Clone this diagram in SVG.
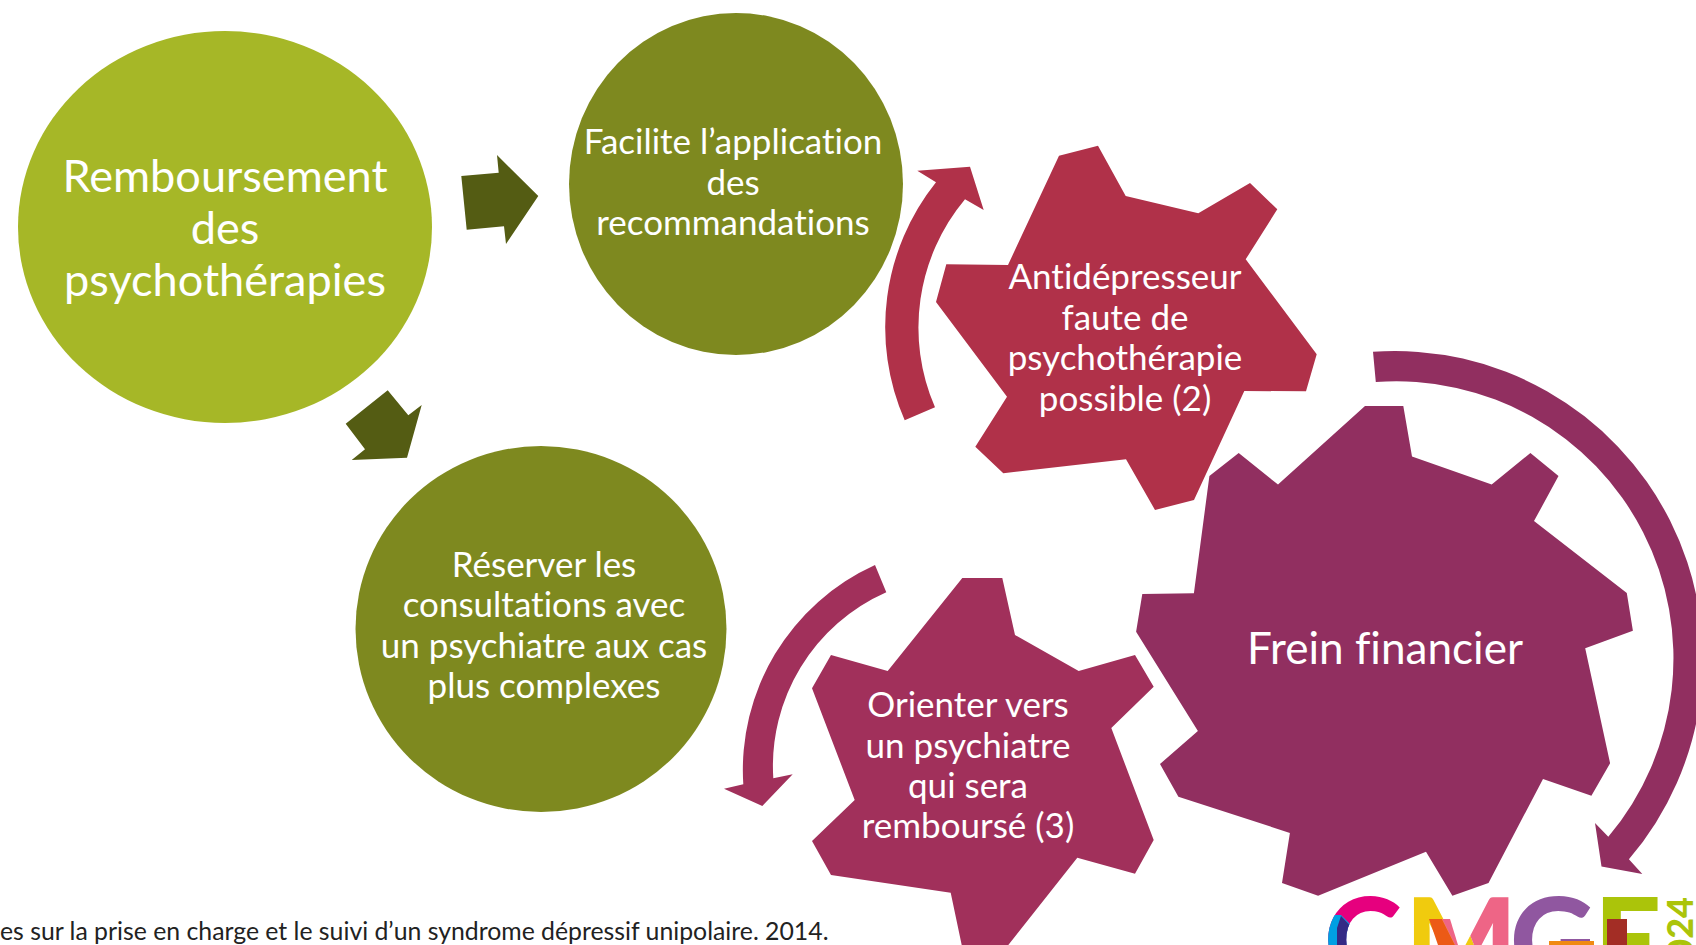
<svg xmlns="http://www.w3.org/2000/svg" width="1696" height="945" viewBox="0 0 1696 945">
<defs>
<style>
.t{font-family:"Lato","Open Sans",sans-serif;font-weight:400;fill:#fff;text-anchor:middle;font-variant-ligatures:none}
.s1{font-size:45.1px}
.s2{font-size:35px}
.s3{font-size:44.1px}
.f{font-family:"Lato","Open Sans",sans-serif;font-weight:400;font-size:24.8px;fill:#222;font-variant-ligatures:none}
.a{fill:#545C13}
.lg{font-family:"Lato","Liberation Sans",sans-serif;font-weight:900;font-size:118px}
</style>
<clipPath id="mL"><polygon points="1405,890 1452,890 1474,945 1405,945"/></clipPath>
<clipPath id="mR"><polygon points="1452,890 1515,890 1515,945 1474,945"/></clipPath>
<clipPath id="cB"><polygon points="1320,915 1341,915 1358,932 1352,945 1320,945"/></clipPath>
<clipPath id="cN"><polygon points="1337,928 1341,916 1356,932 1350,945 1337,945"/></clipPath>
</defs>
<rect width="1696" height="945" fill="#fff"/>
<g id="connectors">
<polygon class="a" points="461.3,176 498.7,172.7 497,155 538.3,196 506,244 504,226.3 466.7,229.7"/>
<polygon class="a" points="387.7,390.3 408.3,415.3 421.7,405 407,457.7 351.7,460 365,449.3 345.7,423.7"/>
<path fill="#B03149" d="M904.7,420.3 A232,232 0 0 1 936,182.3 L917.3,170.7 L970,166.7 L983.7,210 L965,199.3 A200,200 0 0 0 935,407.3 Z"/>
<path fill="#A1305B" d="M875,565 L886.3,592.3 A190,190 0 0 0 773.3,778.3 L792.7,774.3 L762.3,806 L724,788.7 L743.3,784.3 A225,225 0 0 1 875,565 Z"/>
<path fill="#912F60" d="M1373,351.8 L1375.8,382.1 A277,277 0 0 1 1608.3,836.8 L1595,822.9 L1601.5,866.4 L1642.3,873.9 L1628.9,859.3 A308,308 0 0 0 1373,351.8 Z"/>
</g>
<g id="node-remboursement">
<ellipse cx="225" cy="227" rx="207" ry="196" fill="#A6B727"/>
<text class="t s1" x="225" y="192">Remboursement</text>
<text class="t s1" x="225" y="244">des</text>
<text class="t s1" x="225" y="296">psychothérapies</text>
</g>
<g id="node-facilite">
<ellipse cx="736" cy="184" rx="167" ry="171" fill="#7E891F"/>
<text class="t s2" x="733" y="154">Facilite l’application</text>
<text class="t s2" x="733" y="195">des</text>
<text class="t s2" x="733" y="235">recommandations</text>
</g>
<g id="node-reserver">
<ellipse cx="541" cy="629" rx="185.5" ry="183" fill="#7E891F"/>
<text class="t s2" x="544" y="577">Réserver les</text>
<text class="t s2" x="544" y="617">consultations avec</text>
<text class="t s2" x="544" y="658">un psychiatre aux cas</text>
<text class="t s2" x="544" y="698">plus complexes</text>
</g>
<g id="node-antidepresseur">
<polygon fill="#B03149" points="1098,145.7 1125.7,196 1198.3,213.3 1250,183 1277.3,209.3 1245.7,259.3 1316.7,354.3 1306,391.3 1244.3,391 1194,500 1155,510 1126,459.3 1003.3,473.3 975.3,446.7 1007,396.7 936,302 946.3,264.3 1008,265 1059,155.7"/>
<text class="t s2" x="1125" y="289">Antidépresseur</text>
<text class="t s2" x="1125" y="330">faute de</text>
<text class="t s2" x="1125" y="370">psychothérapie</text>
<text class="t s2" x="1125" y="411">possible (2)</text>
</g>
<g id="node-orienter">
<polygon fill="#A1305B" points="962.3,578 1002.3,578 1015,635 1078.7,671 1135,655 1153.7,686.7 1111.3,728 1153.7,840 1135,873.7 1077.3,857.7 1008.3,945 961.7,945 950.7,892.7 831,875 812,841 854.7,800 812,688.3 831,655 887.7,671"/>
<text class="t s2" x="968" y="717">Orienter vers</text>
<text class="t s2" x="968" y="758">un psychiatre</text>
<text class="t s2" x="968" y="798">qui sera</text>
<text class="t s2" x="968" y="838">remboursé (3)</text>
</g>
<g id="node-frein">
<polygon fill="#912F60" points="1365,406.1 1403.3,406.1 1412,456.4 1491.7,484.6 1530.4,452.9 1558.5,476.1 1534,521.1 1626.8,592.9 1632.9,630.7 1585.2,648.2 1610.1,763.2 1591.4,795.7 1543,778.9 1488.5,882.9 1452.4,895.7 1426,851.8 1318.1,895.7 1282,882.9 1289.9,832.9 1178.4,796.8 1160,763.9 1197.9,731.1 1136.1,631.8 1142.3,593.9 1193.9,593.2 1209.4,476.1 1238.7,452.9 1278,484.6"/>
<text class="t s3" x="1385" y="664">Frein financier</text>
</g>
<g id="footnote">
<text class="f" x="0" y="940">es sur la prise en charge et le suivi d’un syndrome dépressif unipolaire. 2014.</text>
</g>
<g id="logo">
<text class="lg" x="1324" y="983" fill="#E6007E">C</text>
<text class="lg" x="1324" y="983" fill="#00A0E3" clip-path="url(#cB)">C</text>
<text class="lg" x="1324" y="983" fill="#342A85" clip-path="url(#cN)">C</text>
<text class="lg" x="1405" y="983" fill="#F0CB0E" clip-path="url(#mL)">M</text>
<text class="lg" x="1405" y="983" fill="#EE6586" clip-path="url(#mR)">M</text>
<polygon fill="#EC5A16" points="1429,919 1442,919 1455,945 1438,945"/>
<polygon fill="#EE6586" points="1442,919 1450,919 1458,945 1455,945"/>
<text class="lg" x="1510" y="983" fill="#9057A0">G</text>
<rect x="1549" y="941" width="45" height="4" fill="#F08A12"/>
<text class="lg" x="1594" y="983" fill="#ABC40A">E</text>
<rect x="1607" y="919" width="20" height="26" fill="#A32D25"/>
<text transform="translate(1693,897) rotate(-90)" font-family="Lato,sans-serif" font-weight="900" font-size="36" text-anchor="end" fill="#ABC40A">2024</text>
</g>
</svg>
